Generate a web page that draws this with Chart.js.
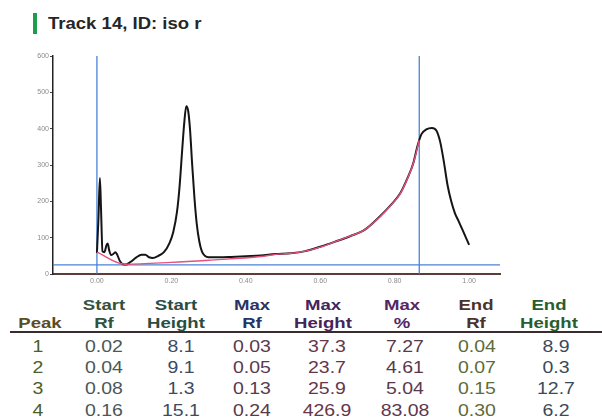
<!DOCTYPE html>
<html>
<head>
<meta charset="utf-8">
<script src="https://cdn.jsdelivr.net/npm/chart.js@4.4.1/dist/chart.umd.min.js"></script>
<style>
    body { margin: 0; background: #fff; width: 602px; height: 419px; overflow: hidden; position: relative; font-family: "Liberation Sans", Arial, sans-serif; }
    #titleBar { position: absolute; left: 33px; top: 13px; width: 4px; height: 21px; background: #1f9e4a; }
    #title { position: absolute; left: 48px; top: 14.6px; font-weight: bold; font-size: 17px; line-height: 17px; color: #262626; white-space: nowrap; transform: scaleX(1.09); transform-origin: left center; }
    #chartBox { position: absolute; left: 20px; top: 50px; width: 484px; height: 240px; }
    #rule { position: absolute; left: 10px; top: 331px; width: 592px; height: 2px; background: #3a2c2c; }
    .cell { position: absolute; width: 100px; text-align: center; white-space: nowrap; }
    .hd { font-weight: bold; font-size: 14.5px; line-height: 14.5px; transform: scaleX(1.28); }
    .val { font-size: 16.5px; line-height: 16.5px; transform: scaleX(1.18); }
</style>
</head>
<body>
<div id="titleBar"></div>
<div id="title">Track 14, ID: iso r</div>
<div id="chartBox"><canvas id="trackChart"></canvas></div>
<div id="rule"></div>
<div id="peakTable"></div>
<script>
// densitometry trace (Rf vs height)
const traceRf = [0.000, 0.004, 0.008, 0.011, 0.015, 0.020, 0.026, 0.029, 0.033, 0.038, 0.044, 0.050, 0.055, 0.062, 0.070, 0.078,
    0.090, 0.105, 0.120, 0.130, 0.140, 0.150, 0.165, 0.180, 0.195, 0.205, 0.215, 0.222, 0.229, 0.235, 0.240, 0.245,
    0.250, 0.256, 0.262, 0.268, 0.275, 0.282, 0.290, 0.300, 0.330, 0.360, 0.400, 0.440, 0.480, 0.520, 0.560, 0.600,
    0.640, 0.680, 0.720, 0.760, 0.790, 0.815, 0.835, 0.850, 0.862, 0.872, 0.885, 0.900, 0.912, 0.922, 0.932, 0.942,
    0.952, 0.962, 0.972, 0.985, 1.000];
const traceHeight = [58, 150, 264, 180, 62, 60, 80, 84, 65, 52, 55, 60, 52, 35, 27, 26,
    33, 45, 53, 53, 46, 44, 50, 60, 85, 115, 170, 240, 340, 420, 462, 450,
    400, 300, 210, 140, 90, 62, 50, 46, 46, 47, 49, 51, 55, 57, 63, 75,
    89, 104, 122, 158, 190, 222, 265, 305, 355, 385, 398, 402, 395, 365, 310, 245,
    200, 167, 145, 115, 80];

// fitted baseline
const baselineRf = [0.000, 0.075, 0.200, 0.300, 0.440, 0.480, 0.520, 0.560, 0.600, 0.640, 0.680, 0.720, 0.760, 0.790, 0.815, 0.835, 0.850, 0.866];
const baselineHeight = [60, 27, 32, 38, 48, 54, 57, 63, 74, 89, 104, 122, 157, 189, 221, 264, 304, 368];

const markerRf = [0.00, 0.866];
const thresholdHeight = 25;

const xRange = [-0.118, 1.083];
const yRange = [0, 600];
const xTickValues = [0.00, 0.20, 0.40, 0.60, 0.80, 1.00];

// peak table
const tableHeaders = [["", "Peak"], ["Start", "Rf"], ["Start", "Height"], ["Max", "Rf"], ["Max", "Height"], ["Max", "%"], ["End", "Rf"], ["End", "Height"]];
const peakNo = ["1", "2", "3", "4"];
const startRf = ["0.02", "0.04", "0.08", "0.16"];
const startHeight = ["8.1", "9.1", "1.3", "15.1"];
const maxRf = ["0.03", "0.05", "0.13", "0.24"];
const maxHeight = ["37.3", "23.7", "25.9", "426.9"];
const maxPercent = ["7.27", "4.61", "5.04", "83.08"];
const endRf = ["0.04", "0.07", "0.15", "0.30"];
const endHeight = ["8.9", "0.3", "12.7", "6.2"];

document.addEventListener("DOMContentLoaded", () => {
    drawChart();
    drawTable();
});

function toPoints(xs, ys) {
    return xs.map((x, i) => ({ x: x, y: ys[i] }));
}

function drawChart() {
    const markerSets = markerRf.map(rf => ({
        data: [{ x: rf, y: yRange[0] }, { x: rf, y: yRange[1] }],
        borderColor: "#3b78d6",
        borderWidth: 1.2,
        pointRadius: 0
    }));

    // chart.js paints the first dataset on top
    const ctx = document.getElementById("trackChart").getContext("2d");
    new Chart(ctx, {
        type: "line",
        data: {
            datasets: [
                {
                    data: toPoints(baselineRf, baselineHeight),
                    borderColor: "#e5507c",
                    borderWidth: 1.4,
                    pointRadius: 0,
                    cubicInterpolationMode: "monotone"
                },
                {
                    data: toPoints(traceRf, traceHeight),
                    borderColor: "#151515",
                    borderWidth: 2,
                    pointRadius: 0,
                    cubicInterpolationMode: "monotone"
                },
                {
                    data: [{ x: xRange[0], y: thresholdHeight }, { x: xRange[1], y: thresholdHeight }],
                    borderColor: "#4a82d4",
                    borderWidth: 1.2,
                    pointRadius: 0
                },
                ...markerSets
            ]
        },
        options: {
            responsive: true,
            maintainAspectRatio: false,
            animation: false,
            layout: { padding: { top: 6, right: 4, left: 0, bottom: 0 } },
            plugins: {
                legend: { display: false },
                tooltip: { enabled: false }
            },
            scales: {
                x: {
                    type: "linear",
                    min: xRange[0],
                    max: xRange[1],
                    afterBuildTicks: (axis) => {
                        axis.ticks = xTickValues.map(v => ({ value: v }));
                    },
                    afterFit: (s) => { s.height = 16; },
                    grid: { drawOnChartArea: false, drawTicks: false },
                    border: { color: "#5b3d36", width: 2 },
                    ticks: {
                        padding: 3,
                        color: "#8a8a8a",
                        font: { size: 7, family: "Liberation Sans" },
                        maxRotation: 0,
                        callback: (v) => Number(v).toFixed(2)
                    }
                },
                y: {
                    min: yRange[0],
                    max: yRange[1],
                    afterFit: (s) => { s.width = 33; },
                    grid: { drawOnChartArea: false, tickLength: 3, color: "#444" },
                    border: { color: "#222", width: 1.5 },
                    ticks: {
                        stepSize: 100,
                        padding: 1,
                        color: "#8a8a8a",
                        font: { size: 7, family: "Liberation Sans" }
                    }
                }
            }
        }
    });
}

function drawTable() {
    const table = document.getElementById("peakTable");
    const headCenters = [40, 104, 176, 252, 323, 402, 476, 549];
    const valCenters = [38, 104, 181, 252, 327, 405, 477, 556];
    const headColors = ["#5e4c1c", "#34523a", "#284e44", "#263466", "#44245a", "#542666", "#4e3226", "#265e30"];
    const valColors = ["#4a5e2a", "#4a5858", "#3e4a60", "#5a3a4c", "#66364a", "#5a384c", "#5e6c38", "#3a4a5a"];
    const columns = [peakNo, startRf, startHeight, maxRf, maxHeight, maxPercent, endRf, endHeight];
    const headTops = [298.4, 315.9];
    const rowTops = [337.5, 358.5, 380, 402];

    tableHeaders.forEach((lines, c) => {
        lines.forEach((text, r) => {
            if (text === "") return;
            const div = document.createElement("div");
            div.className = "cell hd";
            div.textContent = text;
            div.style.left = (headCenters[c] - 50) + "px";
            div.style.top = headTops[r] + "px";
            div.style.color = headColors[c];
            table.appendChild(div);
        });
    });

    columns.forEach((col, c) => {
        col.forEach((text, r) => {
            const div = document.createElement("div");
            div.className = "cell val";
            div.textContent = text;
            div.style.left = (valCenters[c] - 50) + "px";
            div.style.top = rowTops[r] + "px";
            div.style.color = valColors[c];
            table.appendChild(div);
        });
    });
}
</script>
</body>
</html>
